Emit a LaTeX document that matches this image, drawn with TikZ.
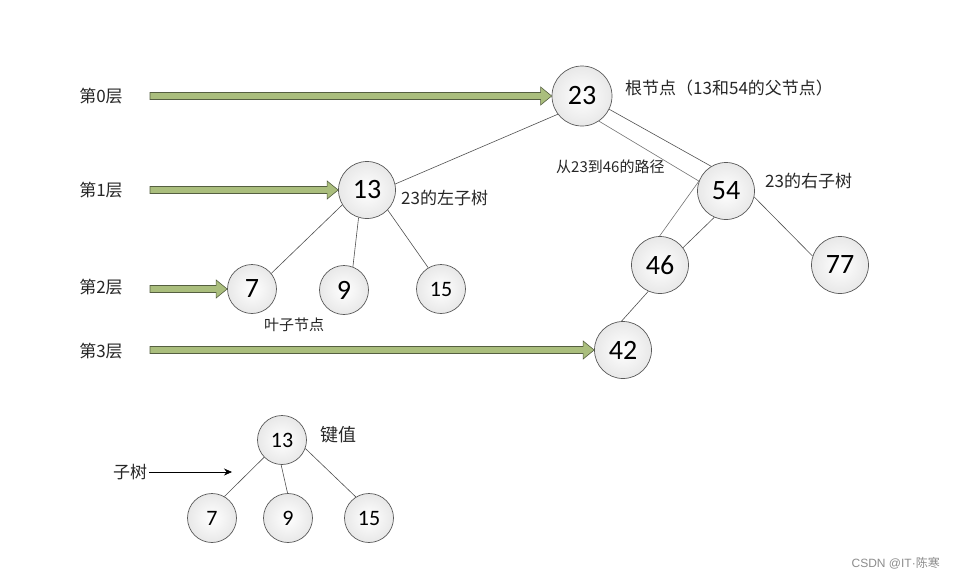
\documentclass[tikz,border=0pt]{standalone}
\usepackage{fontspec}
\setmainfont{Noto Sans CJK SC}
\newfontfamily\numfont{Carlito}
\newfontfamily\wmfont{Liberation Sans}
\usetikzlibrary{calc,arrows.meta}
\definecolor{arrfill}{RGB}{170,190,125}
\definecolor{arrline}{RGB}{85,95,65}
\definecolor{edgec}{RGB}{80,80,80}
\tikzset{
  tn/.style={circle,draw=black!65,line width=0.7pt,inner sep=0pt,minimum size=#1,
    shading=radial,inner color=white,outer color=black!9,font=\numfont\fontsize{28}{30}\selectfont},
  tn/.default=57pt,
  sn/.style={tn=49pt,font=\numfont\fontsize{22}{24}\selectfont},
  ed/.style={draw=edgec,line width=0.6pt},
  pathline/.style={draw=black!55,line width=0.6pt},
  lbl/.style={inner sep=0pt,font=\fontsize{17}{19}\selectfont,text=black!85},
  slbl/.style={inner sep=0pt,font=\fontsize{15}{17}\selectfont,text=black!85},
  blk/.style={fill=arrfill,draw=arrline,line width=0.6pt,line join=miter},
}
\newcommand\blkarrow[2]{%
  \filldraw[blk] ($(#1)+(0,3.5)$) -- ($(#2.west)+(-11,3.5)$) -- ($(#2.west)+(-11,9)$)
   -- (#2.west) -- ($(#2.west)+(-11,-9)$) -- ($(#2.west)+(-11,-3.5)$) -- ($(#1)+(0,-3.5)$) -- cycle;}
\begin{document}
\begin{tikzpicture}[x=1pt,y=-1pt]
\useasboundingbox (0,0) rectangle (955,581);
% main tree
\node[tn=60pt] (n23) at (582,96) {23};
\node[tn] (n13) at (367,190) {13};
\node[tn] (n54) at (726,191) {54};
\node[tn] (n46) at (660,265) {46};
\node[tn] (n77) at (840,265) {77};
\node[tn] (n42) at (623,350) {42};
\node[tn=49pt] (n7) at (252,289) {7};
\node[tn=49pt] (n9) at (344,290) {9};
\node[sn] (n15) at (441,289) {15};
% edges
\draw[ed] (n23.217) -- (n13.12);
\draw[ed] (n23.334) -- (n54.121);
\draw[pathline] (n23.304) -- (n54.160) -- (n46.91);
\draw[ed] (n54.246) -- (n46.37);
\draw[ed] (n54.348) -- (n77.162);
\draw[ed] (n46.246) -- (n42.93);
\draw[ed] (n13.211) -- (n7.39);
\draw[ed] (n13.253) -- (n9.69);
\draw[ed] (n13.316) -- (n15.121);
% level labels and arrows
\node[lbl] (l0) at (101,96) {第0层};
\node[lbl] (l1) at (101,190) {第1层};
\node[lbl] (l2) at (101,287) {第2层};
\node[lbl] (l3) at (101,351) {第3层};
\coordinate (s0) at (150,96);
\coordinate (s1) at (150,190);
\coordinate (s2) at (150,289);
\coordinate (s3) at (150,350);
\blkarrow{s0}{n23}
\blkarrow{s1}{n13}
\blkarrow{s2}{n7}
\blkarrow{s3}{n42}
% annotations
\node[lbl,anchor=west] (root) at (625,88) {根节点（13和54的父节点）};
\node[slbl,anchor=west] (pth) at (556,167) {从23到46的路径};
\node[lbl,anchor=west] (rst) at (765,181) {23的右子树};
\node[lbl,anchor=west] (lst) at (401,198) {23的左子树};
\node[slbl,anchor=west] (leaf) at (264,325) {叶子节点};
% small tree
\node[sn] (b13) at (282,440) {13};
\node[sn] (b7) at (212,518) {7};
\node[sn] (b9) at (288,518) {9};
\node[sn] (b15) at (369,518) {15};
\draw[ed] (b13.224) -- (b7.60);
\draw[ed] (b13.268) -- (b9.91);
\draw[ed] (b13.340) -- (b15.122);
\node[inner sep=0pt,anchor=west,font=\fontsize{18}{20}\selectfont,text=black!85] (kv) at (320,435) {键值};
\node[lbl,anchor=west] (sub) at (113,472) {子树};
\coordinate (subend) at (232,472);
\draw[line width=0.7pt,-{Stealth[length=8pt,width=7pt]}] ([xshift=2pt]sub.east) -- (subend);
% watermark
\node[inner sep=0pt,anchor=east,font=\fontsize{12}{14}\selectfont,text=black!45] (wm) at (940,563) {{\wmfont CSDN @IT·}陈寒};
\end{tikzpicture}
\end{document}
